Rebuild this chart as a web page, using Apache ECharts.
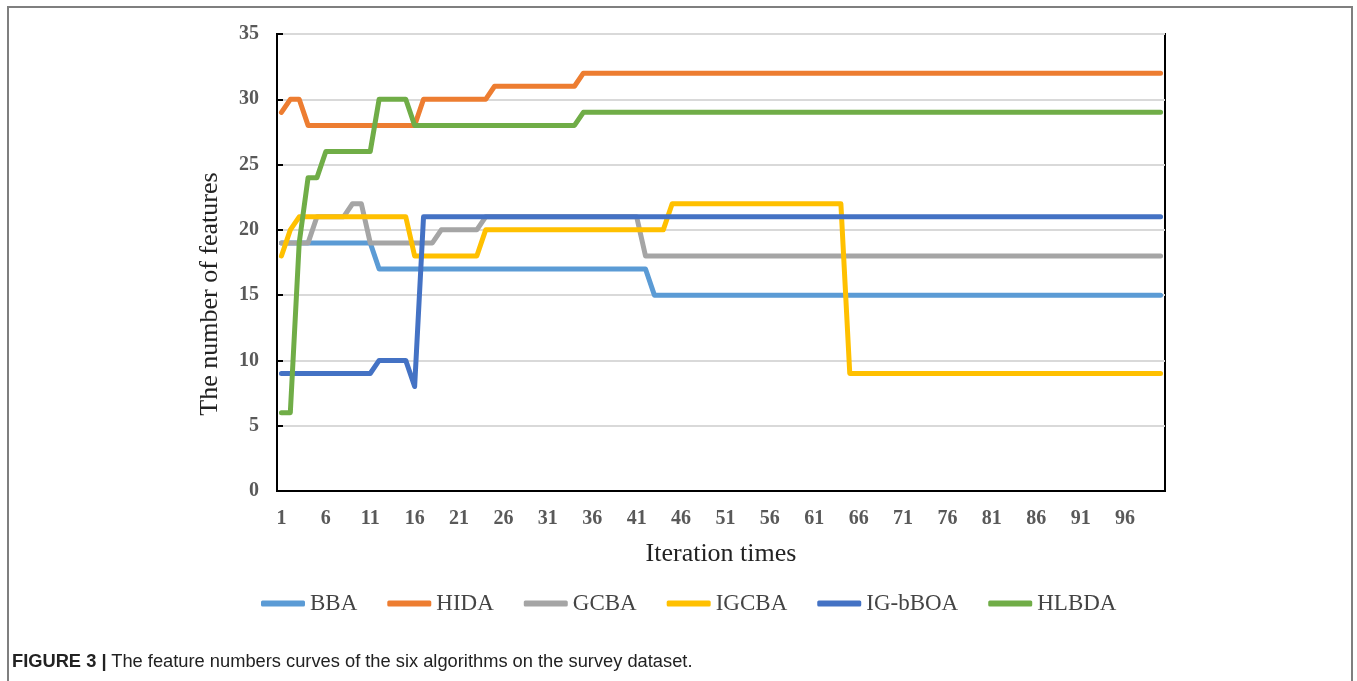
<!DOCTYPE html>
<html>
<head>
<meta charset="utf-8">
<script src="https://cdn.jsdelivr.net/npm/echarts@6/dist/echarts.min.js"></script>
<style>
html,body{margin:0;padding:0;background:#fff;}
#frame{position:absolute;left:7px;top:6px;width:1346px;height:700px;border:2px solid #7f7f7f;border-bottom:none;box-sizing:border-box;}
#chart{position:absolute;left:0;top:0;width:1357px;height:681px;}
#caption{position:absolute;left:12px;top:650px;font-family:"Liberation Sans",Arial,sans-serif;font-size:18.3px;color:#222;white-space:nowrap;}
#caption b{font-weight:bold;}
</style>
</head>
<body>
<div id="frame"></div>
<div id="chart"></div>
<div id="caption"><b>FIGURE 3 |</b> The feature numbers curves of the six algorithms on the survey dataset.</div>
<script>
const categories = [
  1,2,3,4,5,6,7,8,9,10,11,12,13,14,15,16,17,18,19,20,
  21,22,23,24,25,26,27,28,29,30,31,32,33,34,35,36,37,38,39,40,
  41,42,43,44,45,46,47,48,49,50,51,52,53,54,55,56,57,58,59,60,
  61,62,63,64,65,66,67,68,69,70,71,72,73,74,75,76,77,78,79,80,
  81,82,83,84,85,86,87,88,89,90,91,92,93,94,95,96,97,98,99,100
];
const seriesNames = ['BBA','HIDA','GCBA','IGCBA','IG-bBOA','HLBDA'];
const bba = [
  19,19,19,19,19,19,19,19,19,19,
  19,17,17,17,17,17,17,17,17,17,
  17,17,17,17,17,17,17,17,17,17,
  17,17,17,17,17,17,17,17,17,17,
  17,17,15,15,15,15,15,15,15,15,
  15,15,15,15,15,15,15,15,15,15,
  15,15,15,15,15,15,15,15,15,15,
  15,15,15,15,15,15,15,15,15,15,
  15,15,15,15,15,15,15,15,15,15,
  15,15,15,15,15,15,15,15,15,15
];
const hida = [
  29,30,30,28,28,28,28,28,28,28,
  28,28,28,28,28,28,30,30,30,30,
  30,30,30,30,31,31,31,31,31,31,
  31,31,31,31,32,32,32,32,32,32,
  32,32,32,32,32,32,32,32,32,32,
  32,32,32,32,32,32,32,32,32,32,
  32,32,32,32,32,32,32,32,32,32,
  32,32,32,32,32,32,32,32,32,32,
  32,32,32,32,32,32,32,32,32,32,
  32,32,32,32,32,32,32,32,32,32
];
const gcba = [
  19,19,19,19,21,21,21,21,22,22,
  19,19,19,19,19,19,19,19,20,20,
  20,20,20,21,21,21,21,21,21,21,
  21,21,21,21,21,21,21,21,21,21,
  21,18,18,18,18,18,18,18,18,18,
  18,18,18,18,18,18,18,18,18,18,
  18,18,18,18,18,18,18,18,18,18,
  18,18,18,18,18,18,18,18,18,18,
  18,18,18,18,18,18,18,18,18,18,
  18,18,18,18,18,18,18,18,18,18
];
const igcba = [
  18,20,21,21,21,21,21,21,21,21,
  21,21,21,21,21,18,18,18,18,18,
  18,18,18,20,20,20,20,20,20,20,
  20,20,20,20,20,20,20,20,20,20,
  20,20,20,20,22,22,22,22,22,22,
  22,22,22,22,22,22,22,22,22,22,
  22,22,22,22,9,9,9,9,9,9,
  9,9,9,9,9,9,9,9,9,9,
  9,9,9,9,9,9,9,9,9,9,
  9,9,9,9,9,9,9,9,9,9
];
const igbboa = [
  9,9,9,9,9,9,9,9,9,9,
  9,10,10,10,10,8,21,21,21,21,
  21,21,21,21,21,21,21,21,21,21,
  21,21,21,21,21,21,21,21,21,21,
  21,21,21,21,21,21,21,21,21,21,
  21,21,21,21,21,21,21,21,21,21,
  21,21,21,21,21,21,21,21,21,21,
  21,21,21,21,21,21,21,21,21,21,
  21,21,21,21,21,21,21,21,21,21,
  21,21,21,21,21,21,21,21,21,21
];
const hlbda = [
  6,6,19,24,24,26,26,26,26,26,
  26,30,30,30,30,28,28,28,28,28,
  28,28,28,28,28,28,28,28,28,28,
  28,28,28,28,29,29,29,29,29,29,
  29,29,29,29,29,29,29,29,29,29,
  29,29,29,29,29,29,29,29,29,29,
  29,29,29,29,29,29,29,29,29,29,
  29,29,29,29,29,29,29,29,29,29,
  29,29,29,29,29,29,29,29,29,29,
  29,29,29,29,29,29,29,29,29,29
];
const colors = ['#5B9BD5','#ED7D31','#A5A5A5','#FFC000','#4472C4','#70AD47'];
const allData = [bba, hida, gcba, igcba, igbboa, hlbda];
const yTitle = 'The number of features';
const xTitle = 'Iteration times';

const serif = '"Liberation Serif","Times New Roman",serif';
const chart = echarts.init(document.getElementById('chart'));
chart.setOption({
  animation: false,
  color: colors,
  grid: {left: 277, right: 192, top: 34, bottom: 190, show: true, borderColor: '#000', borderWidth: 2},
  legend: {
    left: 256, top: 587,
    icon: 'roundRect', itemWidth: 44, itemHeight: 6, itemGap: 30,
    textStyle: {fontFamily: serif, fontSize: 23, color: '#444'},
    data: seriesNames
  },
  xAxis: {
    type: 'category', data: categories, boundaryGap: true,
    name: xTitle, nameLocation: 'middle', nameGap: 50,
    nameTextStyle: {fontFamily: serif, fontSize: 26, color: '#222'},
    axisLine: {lineStyle: {color: '#000', width: 2}},
    axisTick: {inside: true, interval: 4, length: 6, lineStyle: {color: '#000', width: 2}},
    axisLabel: {interval: 4, margin: 18, fontFamily: serif, fontWeight: 'bold', fontSize: 20, color: '#595959'},
    splitLine: {show: false}
  },
  yAxis: {
    type: 'value', min: 0, max: 35, interval: 5,
    axisLine: {show: true, lineStyle: {color: '#000', width: 2}},
    axisTick: {show: true, inside: true, length: 6, lineStyle: {color: '#000', width: 2}},
    axisLabel: {margin: 18, fontFamily: serif, fontWeight: 'bold', fontSize: 20, color: '#595959'},
    splitLine: {lineStyle: {color: '#d9d9d9', width: 2}}
  },
  graphic: [{
    type: 'text', x: 210, y: 294, rotation: Math.PI / 2,
    style: {text: yTitle, fontFamily: serif, fontSize: 26, fill: '#222', align: 'center', verticalAlign: 'middle'}
  }],
  series: seriesNames.map((n, i) => ({
    name: n, type: 'line', data: allData[i], symbol: 'none', showSymbol: false,
    lineStyle: {width: 5, color: colors[i], join: 'round', cap: 'round'},
    itemStyle: {color: colors[i]},
    emphasis: {disabled: true}
  }))
});
</script>
</body>
</html>
